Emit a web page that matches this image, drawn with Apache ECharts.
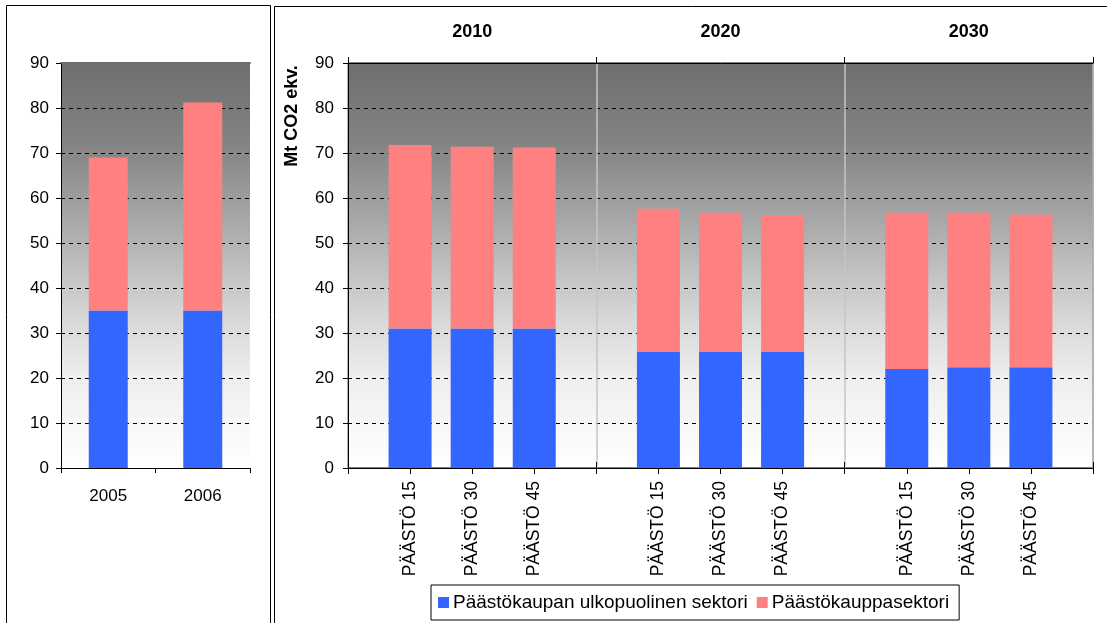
<!DOCTYPE html>
<html>
<head>
<meta charset="utf-8">
<script src="https://cdn.jsdelivr.net/npm/echarts@6/dist/echarts.min.js"></script>
<style>
html,body{margin:0;padding:0;background:#fff;}
#main{width:1107px;height:623px;}
</style>
</head>
<body>
<div id="main"></div>
<script>
// ---- data ----
var histCategories = ['2005', '2006'];
var histOutside = [35, 35];        // Päästökaupan ulkopuolinen sektori
var histTrading = [34, 46.2];      // Päästökauppasektori

var groupYears = ['2010', '2020', '2030'];
var scenarioCategories = ['', 'PÄÄSTÖ 15', 'PÄÄSTÖ 30', 'PÄÄSTÖ 45', '', 'PÄÄSTÖ 15', 'PÄÄSTÖ 30', 'PÄÄSTÖ 45', '', 'PÄÄSTÖ 15', 'PÄÄSTÖ 30', 'PÄÄSTÖ 45', ''];
var scenOutside = [null, 31, 31, 31, null, 25.8, 25.8, 25.8, null, 22.0, 22.4, 22.4, null];
var scenTrading = [null, 40.8, 40.4, 40.2, null, 31.8, 30.9, 30.2, null, 34.7, 34.3, 33.9, null];

var yTicks = ['0', '10', '20', '30', '40', '50', '60', '70', '80', '90'];
var seriesNames = ['Päästökaupan ulkopuolinen sektori', 'Päästökauppasektori'];
var colors = ['#3366ff', '#ff8080'];

var FONT = 'Liberation Sans, Arial, sans-serif';
var bgGrad = {
  type: 'linear', x: 0, y: 0, x2: 0, y2: 1,
  colorStops: [
    {offset: 0, color: '#6e6e6e'},
    {offset: 0.2, color: '#838383'},
    {offset: 0.35, color: '#a0a0a0'},
    {offset: 0.56, color: '#cacaca'},
    {offset: 0.66, color: '#dcdcdc'},
    {offset: 0.78, color: '#eeeeee'},
    {offset: 0.9, color: '#f8f8f8'},
    {offset: 1, color: '#ffffff'}
  ]
};

var chart = echarts.init(document.getElementById('main'), null, {renderer: 'canvas'});

var yAxisCommon = function (gridIndex, margin) {
  return {
    type: 'value', gridIndex: gridIndex, min: 0, max: 90, interval: 10,
    axisLine: {show: true, lineStyle: {color: '#000', width: 1}},
    axisTick: {show: true, length: 5, lineStyle: {color: '#000'}},
    axisLabel: {color: '#000', fontSize: 17, fontFamily: FONT, margin: margin,
      formatter: function (v) { return yTicks[Math.round(v / 10)]; }},
    splitLine: {show: true, lineStyle: {color: '#000', type: [4, 4], width: 1}}
  };
};

var option = {
  animation: false,
  backgroundColor: '#ffffff',
  textStyle: {fontFamily: FONT},
  grid: [
    {left: 61, top: 63, width: 189, height: 405, show: true, backgroundColor: bgGrad, borderWidth: 0},
    {left: 348, top: 63, width: 745, height: 405, show: true, backgroundColor: bgGrad, borderColor: '#000', borderWidth: 1}
  ],
  xAxis: [
    {
      type: 'category', gridIndex: 0, data: histCategories, boundaryGap: true,
      axisLine: {show: true, lineStyle: {color: '#000'}},
      axisTick: {show: true, length: 5, lineStyle: {color: '#000'}},
      axisLabel: {color: '#000', fontSize: 17, fontFamily: FONT, margin: 20}
    },
    {
      type: 'category', gridIndex: 1, data: scenarioCategories, boundaryGap: false,
      axisLine: {show: true, lineStyle: {color: '#000'}},
      axisTick: {show: true, length: 6, interval: 0, lineStyle: {color: '#000'}},
      axisLabel: {color: '#000', fontSize: 17.5, fontFamily: FONT, rotate: 90, interval: 0, margin: 13},
      splitLine: {show: false}
    },
    {
      type: 'category', gridIndex: 1, position: 'top', data: groupYears, boundaryGap: true,
      axisLine: {show: true, lineStyle: {color: '#000'}},
      axisTick: {show: true, length: 6, lineStyle: {color: '#000'}},
      axisLabel: {color: '#000', fontSize: 18, fontWeight: 'bold', fontFamily: FONT, margin: 22},
      splitLine: {show: true, lineStyle: {color: '#c4c4c4', width: 1.5}}
    },
    {
      // inner half of the crossing ticks on the scenario axis
      type: 'category', gridIndex: 1, position: 'bottom', data: scenarioCategories, boundaryGap: false,
      axisLine: {show: false},
      axisTick: {show: true, inside: true, length: 6, interval: 0, lineStyle: {color: '#000'}},
      axisLabel: {show: false},
      splitLine: {show: false}
    },
    {
      // top edge of the left plot (no grid line there)
      type: 'category', gridIndex: 0, position: 'top', data: histCategories, boundaryGap: true,
      axisLine: {show: true, lineStyle: {color: '#6e6e6e', width: 2}},
      axisTick: {show: false}, axisLabel: {show: false}, splitLine: {show: false}
    }
  ],
  yAxis: [yAxisCommon(0, 12), yAxisCommon(1, 14)],
  legend: {
    left: 431, top: 585,
    data: seriesNames,
    icon: 'rect', itemWidth: 11, itemHeight: 11, itemGap: 9,
    borderColor: '#000', borderWidth: 1,
    padding: [8, 10, 8, 7],
    textStyle: {color: '#000', fontSize: 19, fontFamily: FONT, padding: [0, 0, 0, -1]}
  },
  series: [
    {name: seriesNames[0], type: 'bar', xAxisIndex: 0, yAxisIndex: 0, stack: 'h', data: histOutside, barWidth: 39, itemStyle: {color: colors[0]}},
    {name: seriesNames[1], type: 'bar', xAxisIndex: 0, yAxisIndex: 0, stack: 'h', data: histTrading, barWidth: 39, itemStyle: {color: colors[1]}},
    {name: seriesNames[0], type: 'bar', xAxisIndex: 1, yAxisIndex: 1, stack: 's', data: scenOutside, barWidth: 43, itemStyle: {color: colors[0]}},
    {name: seriesNames[1], type: 'bar', xAxisIndex: 1, yAxisIndex: 1, stack: 's', data: scenTrading, barWidth: 43, itemStyle: {color: colors[1]}}
  ],
  graphic: [
    {type: 'rect', shape: {x: 6.5, y: 5.5, width: 264, height: 640}, style: {fill: 'none', stroke: '#000', lineWidth: 1}, z: 100},
    {type: 'rect', shape: {x: 274.5, y: 6.5, width: 860, height: 640}, style: {fill: 'none', stroke: '#000', lineWidth: 1}, z: 100},
    {type: 'text', x: 292, y: 116, rotation: Math.PI / 2,
      style: {text: 'Mt CO2 ekv.', fill: '#000', font: 'bold 18px ' + FONT, textAlign: 'center', textVerticalAlign: 'middle'}, z: 100}
  ]
};
chart.setOption(option);
</script>
</body>
</html>
